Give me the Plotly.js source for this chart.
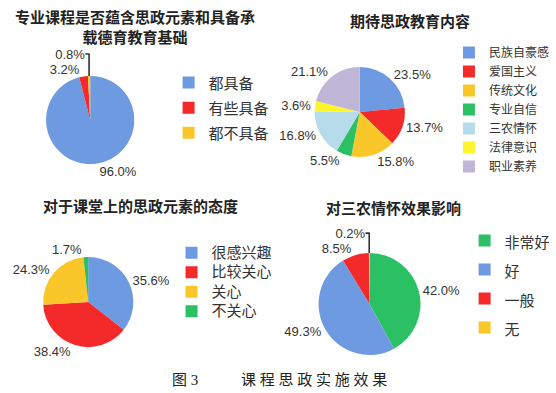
<!DOCTYPE html>
<html>
<head>
<meta charset="utf-8">
<script src="https://cdn.plot.ly/plotly-3.0.1.min.js"></script>
<style>html,body{margin:0;padding:0;background:#fff;}#chart{width:556px;height:393px;}</style>
</head>
<body>
<div id="chart"></div>
<script>
// Chart 1
const labels1 = ["都具备", "有些具备", "都不具备"];
const values1 = [96.0, 3.2, 0.8];
// Chart 2
const labels2 = ["民族自豪感", "爱国主义", "传统文化", "专业自信", "三农情怀", "法律意识", "职业素养"];
const values2 = [23.5, 13.7, 15.8, 5.5, 16.8, 3.6, 21.1];
// Chart 3
const labels3 = ["很感兴趣", "比较关心", "关心", "不关心"];
const values3 = [35.6, 38.4, 24.3, 1.7];
// Chart 4
const labels4 = ["非常好", "好", "一般", "无"];
const values4 = [42.0, 49.3, 8.5, 0.2];

const titleLines1 = ["专业课程是否蕴含思政元素和具备承", "载德育教育基础"];
const titles = ["期待思政教育内容", "对于课堂上的思政元素的态度", "对三农情怀效果影响"];
const captionNo = "图 3";
const captionText = "课 程 思 政 实 施 效 果";

const W = 556, H = 393;
const BLUE = "#6E9AE2", RED = "#F42A2A", YEL = "#F9C72A", GRN = "#2CC065", LBLUE = "#B6DCEB", BYEL = "#FCF52E", LAV = "#BFB5D6";

function dom(cx, cy, r) {
  return { x: [(cx - r) / W, (cx + r) / W], y: [1 - (cy + r) / H, 1 - (cy - r) / H] };
}
const font = "Noto Sans CJK SC, Noto Sans, sans-serif";
function styled(labels, size) {
  return labels.map(l => '<span style="font-size:' + size + 'px">' + l + '</span>');
}
function pie(labels, values, colors, d, legend, legSize) {
  return {
    type: "pie", labels: styled(labels, legSize), values: values, sort: false, direction: "clockwise", rotation: 0,
    marker: { colors: colors, line: { width: 0 } },
    textposition: "outside", texttemplate: "%{value:.1f}%",
    textfont: { size: 13, color: "#333", family: "Liberation Sans, Arial, sans-serif" },
    domain: d, legend: legend, automargin: false, hoverinfo: "value"
  };
}
const data = [
  pie(labels1, values1, [BLUE, RED, YEL], dom(92, 120, 45), "legend", 15),
  pie(labels2, values2, [BLUE, RED, YEL, GRN, LBLUE, BYEL, LAV], dom(367, 112, 46), "legend2", 12),
  pie(labels3, values3, [BLUE, RED, YEL, GRN], dom(90, 302, 46), "legend3", 15),
  pie(labels4, values4, [GRN, BLUE, RED, YEL], dom(377, 304, 52), "legend4", 15)
];
function leg(x, y, size) {
  return { x: x / W, y: 1 - y / H, xanchor: "left", yanchor: "top", bgcolor: "rgba(0,0,0,0)",
    font: { family: font, size: size, color: "#333" }, itemwidth: 30 };
}
function ann(text, x, y, size, bold, fam) {
  return { text: bold ? "<b>" + text + "</b>" : text, x: x / W, y: 1 - y / H, xref: "paper", yref: "paper",
    showarrow: false, xanchor: "center", yanchor: "middle", font: { family: fam || font, size: size, color: "#222" } };
}
const serif = "Liberation Serif, DejaVu Serif, Noto Sans CJK SC, serif";
const layout = {
  width: W, height: H, margin: { l: 0, r: 0, t: 0, b: 0 },
  paper_bgcolor: "#fff", plot_bgcolor: "#fff",
  showlegend: true,
  legend: leg(172, 65, 17),
  legend2: leg(458, 38, 12),
  legend3: leg(175, 238, 12.7),
  legend4: leg(474, 221, 20),
  annotations: [
    ann(titleLines1.join("<br>"), 138, 26, 15, true),
    ann(titles[0], 418, 20, 15, true),
    ann(titles[1], 143, 205, 15, true),
    ann(titles[2], 401, 207, 15, true),
    ann(captionNo, 189, 380, 15, false, serif),
    ann(captionText, 320, 380, 15, false, serif)
  ]
};
Plotly.newPlot("chart", data, layout, { displayModeBar: false, staticPlot: true });
</script>
</body>
</html>
